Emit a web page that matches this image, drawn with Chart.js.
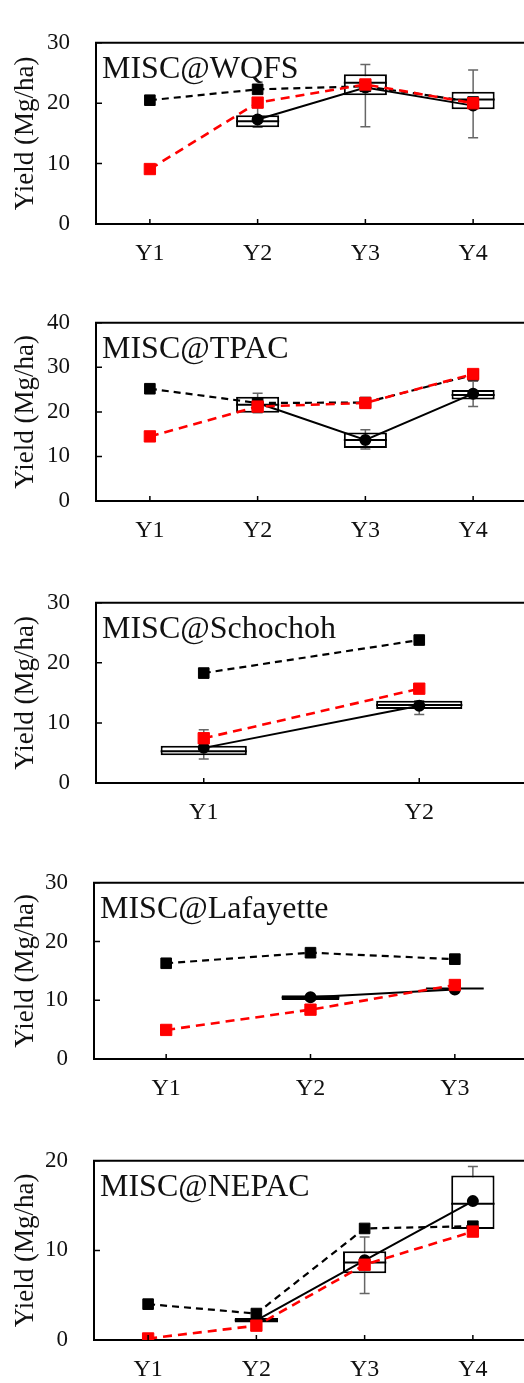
<!DOCTYPE html>
<html>
<head>
<meta charset="utf-8">
<script src="https://cdn.jsdelivr.net/npm/chart.js@4.4.0/dist/chart.umd.min.js"></script>
<style>
  body { margin: 0; background: #fff; width: 524px; height: 1383px; overflow: hidden; position: relative; }
  canvas { position: absolute; left: 0; }
</style>
</head>
<body>
<canvas id="p0"></canvas>
<canvas id="p1"></canvas>
<canvas id="p2"></canvas>
<canvas id="p3"></canvas>
<canvas id="p4"></canvas>
<script>
// ---- data ----
const siteTitles = ['MISC@WQFS', 'MISC@TPAC', 'MISC@Schochoh', 'MISC@Lafayette', 'MISC@NEPAC'];
const yMax = [30, 40, 30, 30, 20];

// WQFS
const wqfsYears = ['Y1', 'Y2', 'Y3', 'Y4'];
const wqfsBlack = [20.5, 22.3, 22.8, 20.2];
const wqfsRed = [9.1, 20.1, 23.1, 20.0];
const wqfsObs = [null, 17.3, 22.6, 19.6];
const wqfsBoxLow = [null, 16.0, 21.3, 19.0];
const wqfsBoxHigh = [null, 18.0, 24.8, 21.9];
const wqfsMedian = [null, 17.0, 23.4, 20.6];
const wqfsWhiskLow = [null, 16.0, 16.1, 14.3];
const wqfsWhiskHigh = [null, 19.3, 26.4, 25.5];

// TPAC
const tpacYears = ['Y1', 'Y2', 'Y3', 'Y4'];
const tpacBlack = [25.2, 22.0, 22.1, 28.3];
const tpacRed = [14.5, 21.2, 22.0, 28.5];
const tpacObs = [null, 22.0, 13.7, 24.1];
const tpacBoxLow = [null, 19.8, 11.9, 22.8];
const tpacBoxHigh = [null, 23.4, 15.4, 24.9];
const tpacMedian = [null, 21.6, 13.7, 23.8];
const tpacWhiskLow = [null, 19.8, 11.7, 21.2];
const tpacWhiskHigh = [null, 24.2, 16.0, 26.9];

// Schochoh
const schoYears = ['Y1', 'Y2'];
const schoBlack = [18.3, 23.8];
const schoRed = [7.45, 15.7];
const schoObs = [5.85, 12.85];
const schoBoxLow = [4.6, 12.3];
const schoBoxHigh = [6.2, 13.7];
const schoMedian = [5.3, 13.0];
const schoWhiskLow = [4.0, 11.4];
const schoWhiskHigh = [8.85, 13.7];

// Lafayette
const lafaYears = ['Y1', 'Y2', 'Y3'];
const lafaBlack = [16.3, 18.1, 17.0];
const lafaRed = [4.95, 8.4, 12.6];
const lafaObs = [null, 10.5, 11.85];
const lafaBoxLow = [null, 10.05, 11.95];
const lafaBoxHigh = [null, 10.85, 12.05];
const lafaMedian = [null, 10.45, 12.0];
const lafaWhiskLow = [null, 10.05, 11.95];
const lafaWhiskHigh = [null, 10.85, 12.05];

// NEPAC
const nepaYears = ['Y1', 'Y2', 'Y3', 'Y4'];
const nepaBlack = [4.0, 2.95, 12.45, 12.7];
const nepaRed = [0.17, 1.6, 8.4, 12.1];
const nepaObs = [null, 2.2, 8.9, 15.5];
const nepaBoxLow = [null, 1.95, 7.45, 12.4];
const nepaBoxHigh = [null, 2.45, 9.9, 18.35];
const nepaMedian = [null, 2.2, 8.65, 15.2];
const nepaWhiskLow = [null, 1.95, 5.2, 12.4];
const nepaWhiskHigh = [null, 2.45, 11.5, 19.35];

// ---- layout of each panel on the page (pixels) ----
const panelLayout = [
  { top: 23, bottom: 224, left: 96 },
  { top: 303, bottom: 501, left: 96 },
  { top: 583, bottom: 783, left: 96 },
  { top: 863, bottom: 1059, left: 94 },
  { top: 1141, bottom: 1340, left: 94 }
];

const panelData = [
  [wqfsYears, wqfsBlack, wqfsRed, wqfsObs, wqfsBoxLow, wqfsBoxHigh, wqfsMedian, wqfsWhiskLow, wqfsWhiskHigh],
  [tpacYears, tpacBlack, tpacRed, tpacObs, tpacBoxLow, tpacBoxHigh, tpacMedian, tpacWhiskLow, tpacWhiskHigh],
  [schoYears, schoBlack, schoRed, schoObs, schoBoxLow, schoBoxHigh, schoMedian, schoWhiskLow, schoWhiskHigh],
  [lafaYears, lafaBlack, lafaRed, lafaObs, lafaBoxLow, lafaBoxHigh, lafaMedian, lafaWhiskLow, lafaWhiskHigh],
  [nepaYears, nepaBlack, nepaRed, nepaObs, nepaBoxLow, nepaBoxHigh, nepaMedian, nepaWhiskLow, nepaWhiskHigh]
];

const SERIF = "'Liberation Serif', 'Times New Roman', serif";
const PAD_TOP = 20, AXIS_H = 50, CANVAS_W = 540;

// whiskers, medians, frame, inner ticks and panel label
const boxFrame = {
  id: 'boxFrame',
  beforeDatasetsDraw(chart) {
    const ds = chart.data.datasets.find(d => d.whiskLow);
    const xs = chart.scales.x, ys = chart.scales.y;
    const ctx = chart.ctx;
    ctx.save();
    ctx.strokeStyle = '#666';
    ctx.lineWidth = 1.5;
    ds.whiskLow.forEach((lo, i) => {
      if (lo == null) return;
      const px = xs.getPixelForValue(i);
      const y1 = ys.getPixelForValue(lo), y2 = ys.getPixelForValue(ds.whiskHigh[i]);
      ctx.beginPath();
      ctx.moveTo(px, y1); ctx.lineTo(px, y2);
      ctx.moveTo(px - 5, y1); ctx.lineTo(px + 5, y1);
      ctx.moveTo(px - 5, y2); ctx.lineTo(px + 5, y2);
      ctx.stroke();
    });
    ctx.restore();
  },
  afterDatasetDraw(chart, args) {
    const ds = chart.data.datasets[args.index];
    if (!ds.median) return;
    const ys = chart.scales.y;
    const ctx = chart.ctx;
    ctx.save();
    ctx.strokeStyle = '#000';
    ctx.lineWidth = 2;
    args.meta.data.forEach((bar, i) => {
      if (ds.median[i] == null) return;
      const py = ys.getPixelForValue(ds.median[i]);
      ctx.beginPath();
      ctx.moveTo(bar.x - bar.width / 2, py);
      ctx.lineTo(bar.x + bar.width / 2, py);
      ctx.stroke();
    });
    ctx.restore();
  },
  afterDraw(chart, args, opts) {
    const { ctx, chartArea } = chart;
    const xs = chart.scales.x, ys = chart.scales.y;
    ctx.save();
    ctx.strokeStyle = '#000';
    ctx.lineWidth = 2;
    ctx.beginPath();
    ctx.moveTo(chartArea.left - 1, chartArea.top);
    ctx.lineTo(chart.width, chartArea.top);
    ctx.stroke();
    ctx.lineWidth = 1.5;
    ctx.beginPath();
    ys.ticks.forEach((t, i) => {
      const py = ys.getPixelForTick(i);
      ctx.moveTo(chartArea.left, py);
      ctx.lineTo(chartArea.left + 6, py);
    });
    xs.ticks.forEach((t, i) => {
      const px = xs.getPixelForTick(i);
      ctx.moveTo(px, chartArea.bottom);
      ctx.lineTo(px, chartArea.bottom - 5);
    });
    ctx.stroke();
    ctx.fillStyle = '#111';
    ctx.font = '32px ' + SERIF;
    ctx.textBaseline = 'alphabetic';
    ctx.fillText(opts.title, chartArea.left + 6, chartArea.top + 35);
    ctx.restore();
  }
};

panelData.forEach((d, p) => {
  const [years, black, red, obs, boxLow, boxHigh, median, whiskLow, whiskHigh] = d;
  const lay = panelLayout[p];
  const canvas = document.getElementById('p' + p);
  const plotH = lay.bottom - lay.top;
  canvas.width = CANVAS_W;
  canvas.height = PAD_TOP + plotH + AXIS_H;
  canvas.style.top = (lay.top - PAD_TOP) + 'px';

  new Chart(canvas.getContext('2d'), {
    type: 'line',
    data: {
      labels: years,
      datasets: [
        {
          label: 'Measured (mean)',
          data: obs,
          borderColor: '#000',
          borderWidth: 2,
          pointStyle: 'circle',
          pointRadius: 5,
          pointBackgroundColor: '#000',
          pointBorderColor: '#000',
          order: 1
        },
        {
          label: 'Model A',
          data: black,
          borderColor: '#000',
          borderWidth: 2.2,
          borderDash: [7, 5],
          pointStyle: 'rect',
          pointRadius: 7.5,
          pointBackgroundColor: '#000',
          pointBorderColor: '#000',
          pointBorderWidth: 1,
          order: 2
        },
        {
          label: 'Model B',
          data: red,
          borderColor: '#ff0000',
          borderWidth: 2.6,
          borderDash: [9, 6],
          pointStyle: 'rect',
          pointRadius: 8,
          pointBackgroundColor: '#ff0000',
          pointBorderColor: '#ff0000',
          pointBorderWidth: 1,
          order: 0
        },
        {
          type: 'bar',
          label: 'Measured (box)',
          data: boxLow.map((lo, i) => lo == null ? null : [lo, boxHigh[i]]),
          backgroundColor: '#fff',
          borderColor: '#000',
          borderWidth: 2,
          borderSkipped: false,
          barPercentage: 0.4,
          categoryPercentage: 1,
          median: median,
          whiskLow: whiskLow,
          whiskHigh: whiskHigh,
          order: 3
        }
      ]
    },
    options: {
      responsive: false,
      animation: false,
      layout: { padding: { top: PAD_TOP, right: 13, left: 0, bottom: 0 } },
      plugins: {
        legend: { display: false },
        tooltip: { enabled: false },
        boxFrame: { title: siteTitles[p] }
      },
      scales: {
        x: {
          type: 'category',
          offset: true,
          grid: { display: false, drawTicks: false },
          border: { color: '#000', width: 2 },
          ticks: {
            color: '#111',
            padding: 15,
            font: { family: SERIF, size: 24 }
          },
          afterFit(scale) { scale.height = AXIS_H; }
        },
        y: {
          min: 0,
          max: yMax[p],
          grid: { display: false, drawTicks: false },
          border: { color: '#000', width: 2 },
          ticks: {
            stepSize: 10,
            color: '#111',
            padding: 26,
            font: { family: SERIF, size: 23 }
          },
          title: {
            display: true,
            text: 'Yield (Mg/ha)',
            color: '#111',
            padding: { top: 10, bottom: 0 },
            font: { family: SERIF, size: 27 }
          },
          afterFit(scale) { scale.width = lay.left; }
        }
      }
    },
    plugins: [boxFrame]
  });
});
</script>
</body>
</html>
